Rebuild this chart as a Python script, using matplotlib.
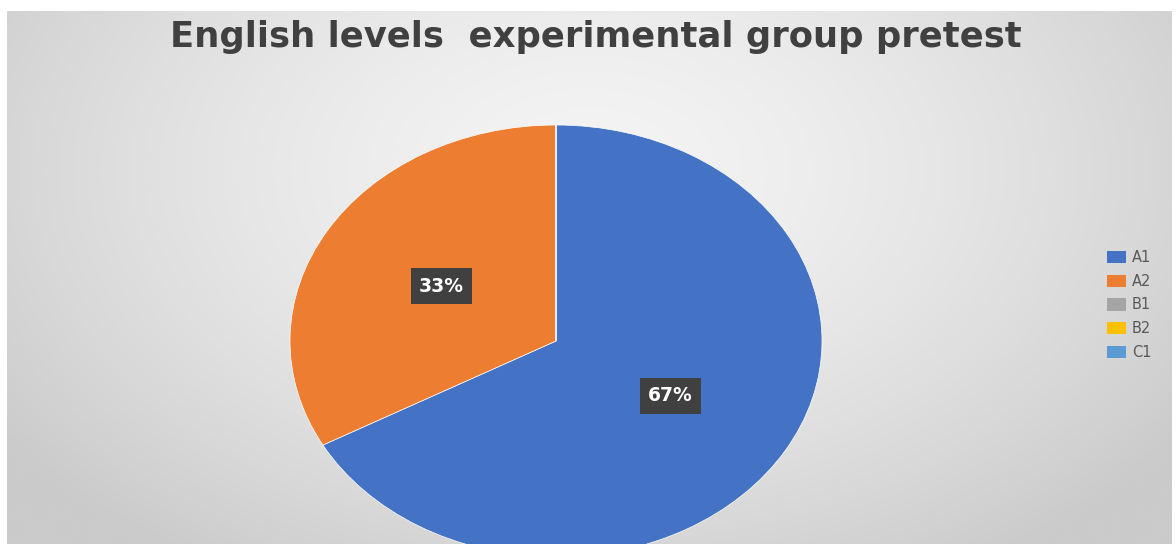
import numpy as np
import matplotlib
matplotlib.use("Agg")
import matplotlib.pyplot as plt

# ---- data ----
categories = ["A1", "A2", "B1", "B2", "C1"]
values = [67, 33, 0, 0, 0]
colors = ["#4472C4", "#ED7D31", "#A5A5A5", "#FFC000", "#5B9BD5"]
title = "English levels  experimental group pretest"

W, H = 1176, 544
fig = plt.figure(figsize=(W / 100, H / 100), dpi=100)
fig.patch.set_facecolor("white")

# ---- background chart area with radial gradient ----
x0, x1, ytop = 7, 1172, 11
bg = fig.add_axes([x0 / W, 0, (x1 - x0) / W, (H - ytop) / H])
bg.set_axis_off()
nx, ny = 400, 200
xx = np.linspace(x0, x1, nx)
yy = np.linspace(ytop, H, ny)
X, Y = np.meshgrid(xx, yy)
d = np.sqrt(((X - 590) / 720) ** 2 + ((Y - 170) / 470) ** 2)
d = np.clip(d, 0, 1)
light, dark = 0xF4, 0xCB
val = (light - (light - dark) * d ** 1.5) / 255.0
img = np.dstack([val, val, val])
bg.imshow(img, extent=[0, 1, 0, 1], aspect="auto", origin="upper",
          interpolation="bilinear")
bg.set_xlim(0, 1)
bg.set_ylim(0, 1)

# ---- pie (elliptical, as in the reference) ----
cx, cy, rx, ry = 556, 341, 266, 216
ax = fig.add_axes([(cx - rx) / W, (H - (cy + ry)) / H, 2 * rx / W, 2 * ry / H])
ax.patch.set_alpha(0)


def fmt(p):
    return f"{p:.0f}%" if p > 0.5 else ""


wedges, texts, autotexts = ax.pie(
    values, colors=colors, startangle=90, counterclock=False,
    autopct=fmt, pctdistance=0.5, radius=1,
    wedgeprops=dict(edgecolor="white", linewidth=0.5),
    textprops=dict(color="white", fontsize=13.5, fontweight="bold",
                   family="DejaVu Sans"),
)
for t in autotexts:
    if t.get_text():
        t.set_bbox(dict(boxstyle="square,pad=0.45", facecolor="#404040",
                        edgecolor="none"))
ax.set_aspect("auto")
ax.set_xlim(-1, 1)
ax.set_ylim(-1, 1)
ax.set_axis_off()

# ---- title ----
fig.text(596 / W, 1 - 37 / H, title, ha="center", va="center",
         fontsize=25.5, fontweight="bold", color="#404040", family="DejaVu Sans")

# ---- legend ----
leg = fig.legend(
    wedges, categories, loc="upper left",
    bbox_to_anchor=(1107 / W, 1 - 250 / H),
    frameon=False, fontsize=10.5, borderpad=0, borderaxespad=0,
    handlelength=1.3, handleheight=0.9, handletextpad=0.4,
    labelspacing=0.6,
)
for t in leg.get_texts():
    t.set_color("#595959")
for h in leg.legend_handles:
    h.set_edgecolor("none")

fig.savefig("out.png", dpi=100)
